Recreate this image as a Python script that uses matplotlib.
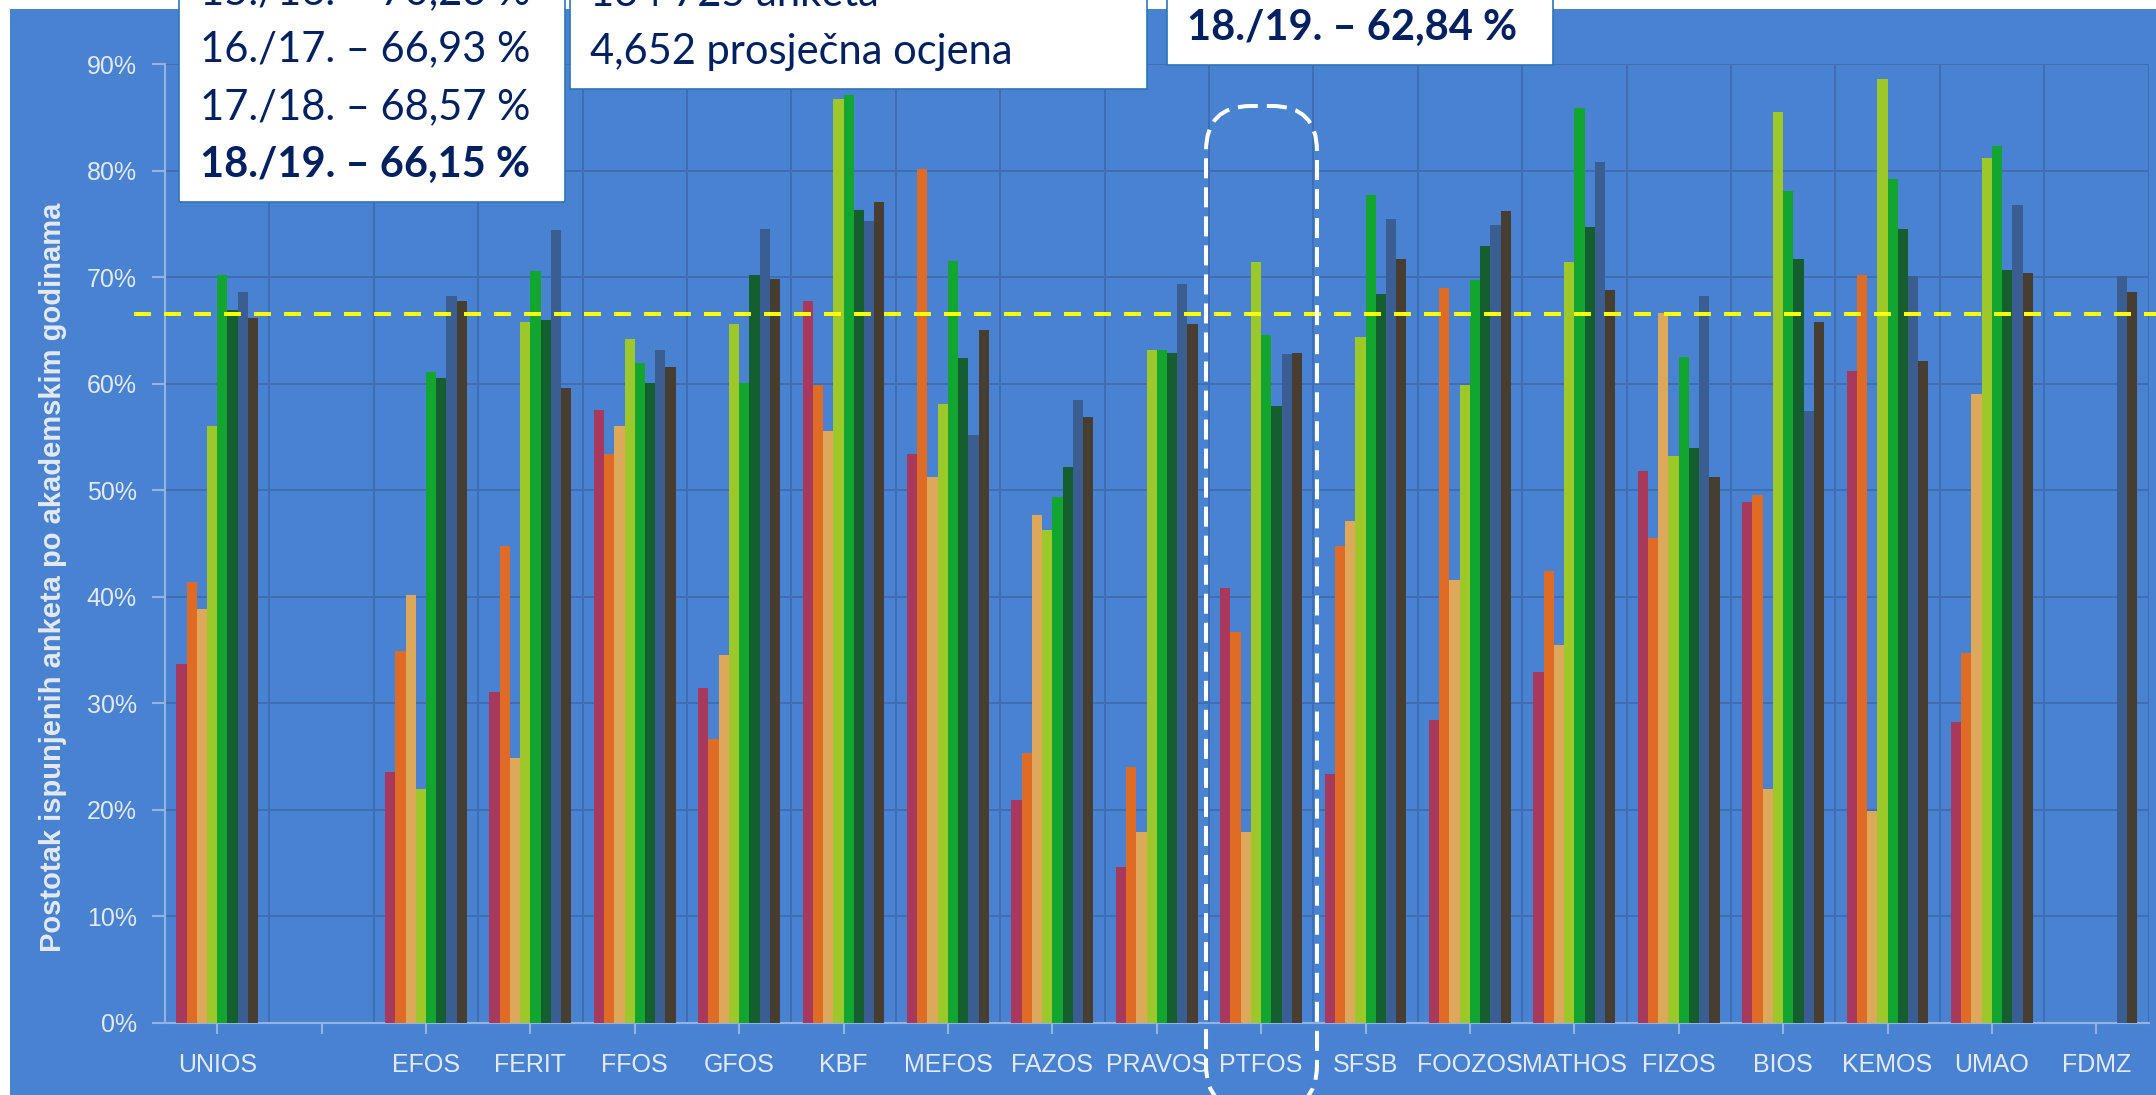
# Postotak ispunjenih anketa po sastavnicama i akademskim godinama
import numpy as np
import matplotlib
matplotlib.use('Agg')
import matplotlib.pyplot as plt
from matplotlib.patches import Rectangle, FancyBboxPatch
from matplotlib.lines import Line2D
from matplotlib.transforms import Affine2D
from matplotlib.ticker import PercentFormatter

nan = np.nan

categories = ['UNIOS', '', 'EFOS', 'FERIT', 'FFOS', 'GFOS', 'KBF', 'MEFOS', 'FAZOS',
              'PRAVOS', 'PTFOS', 'SFSB', 'FOOZOS', 'MATHOS', 'FIZOS', 'BIOS', 'KEMOS',
              'UMAO', 'FDMZ']
years = ['11./12.', '12./13.', '13./14.', '14./15.', '15./16.', '16./17.', '17./18.', '18./19.']

y1112 = [33.7, nan, 23.5, 31.0, 57.5, 31.4, 67.8, 53.4, 20.9, 14.6, 40.8, 23.3, 28.4, 32.9, 51.8, 48.9, 61.2, 28.2, nan]
y1213 = [41.4, nan, 34.9, 44.8, 53.4, 26.6, 59.9, 80.2, 25.3, 24.0, 36.7, 44.8, 69.0, 42.4, 45.5, 49.5, 70.2, 34.7, nan]
y1314 = [38.8, nan, 40.2, 24.8, 56.0, 34.5, 55.6, 51.2, 47.7, 17.9, 17.9, 47.1, 41.6, 35.5, 66.6, 21.9, 19.9, 59.0, nan]
y1415 = [56.0, nan, 21.9, 65.8, 64.2, 65.6, 86.7, 58.1, 46.3, 63.2, 71.4, 64.4, 59.9, 71.4, 53.2, 85.5, 88.6, 81.2, nan]
y1516 = [70.23, nan, 61.1, 70.6, 61.9, 60.1, 87.1, 71.5, 49.4, 63.2, 64.6, 77.7, 69.7, 85.9, 62.5, 78.1, 79.2, 82.3, nan]
y1617 = [66.93, nan, 60.5, 66.0, 60.1, 70.2, 76.3, 62.4, 52.2, 62.9, 57.9, 68.4, 72.9, 74.7, 54.0, 71.7, 74.5, 70.7, nan]
y1718 = [68.57, nan, 68.2, 74.4, 63.2, 74.5, 75.3, 55.2, 58.5, 69.4, 62.8, 75.5, 74.9, 80.8, 68.2, 57.4, 70.1, 76.8, 70.1]
y1819 = [66.15, nan, 67.8, 59.6, 61.6, 69.8, 77.1, 65.0, 56.9, 65.6, 62.84, 71.7, 76.2, 68.8, 51.2, 65.8, 62.1, 70.4, 68.6]
series = [y1112, y1213, y1314, y1415, y1516, y1617, y1718, y1819]

colors = ['#A8385C', '#E06B25', '#DDA85A', '#9DC829', '#12A530', '#155E30', '#3A5E92', '#473D31']

avg_line = 66.5
box_left = ['15./16. – 70,23 %', '16./17. – 66,93 %', '17./18. – 68,57 %', '18./19. – 66,15 %']
box_mid = ['134 725 anketa', '4,652 prosječna ocjena']
box_right = '18./19. – 62,84 %'

plt.rcParams['lines.scale_dashes'] = False
bg = '#4882D0'
grid_c = '#3E6EB6'
spine_c = '#93B3E2'
lab_c = '#E4EAF4'
navy = '#002060'

W, H = 2156, 1095
fig = plt.figure(figsize=(W / 100, H / 100), dpi=100, facecolor='white')
pix = Affine2D().scale(1 / W, 1 / H) + fig.transFigure

fig.add_artist(Rectangle((10, 0), W - 10, H - 9, transform=pix, facecolor=bg,
                         edgecolor='none', zorder=-1))

ax = fig.add_axes([165 / W, (H - 1022.5) / H, (2148.5 - 165) / W, (1022.5 - 64.3) / H])
ax.set_facecolor(bg)

x = np.arange(len(categories))
width = 0.098
for i, (vals, col) in enumerate(zip(series, colors)):
    ax.bar(x + (i - 3.5) * width, vals, width, color=col, linewidth=0, zorder=3, label=years[i])

ax.set_xlim(-0.5, 18.5)
ax.set_ylim(0, 90)
ax.set_yticks(np.arange(0, 91, 10))
ax.yaxis.set_major_formatter(PercentFormatter(decimals=0))
ax.set_xticks(x)
ax.set_xticklabels(categories)
ax.set_xticks(x + 0.5, minor=True)
ax.set_axisbelow(True)
ax.grid(axis='y', which='major', color=grid_c, lw=1.4)
ax.grid(axis='x', which='minor', color=grid_c, lw=1.4)
ax.tick_params(axis='x', which='minor', length=0)

for s in ['top', 'right']:
    ax.spines[s].set_visible(False)
for s in ['left', 'bottom']:
    ax.spines[s].set_color(spine_c)
    ax.spines[s].set_linewidth(1.5)

for lab in ax.get_xticklabels() + ax.get_yticklabels():
    lab.set_family('Liberation Sans')
ax.tick_params(axis='y', which='major', color=spine_c, width=1.5, length=9.4,
               labelsize=18, labelcolor=lab_c, pad=10.8)
ax.tick_params(axis='x', which='major', color=spine_c, width=1.5, length=7.9,
               labelsize=18, labelcolor=lab_c, pad=14)

fig.text(53 / W, (H - 577.5) / H, 'Postotak ispunjenih anketa po akademskim godinama',
         rotation=90, ha='center', va='center', fontsize=21, fontweight='bold',
         color=lab_c, family='Liberation Sans')

# average line
fig.add_artist(Line2D([134, W], [H - 314, H - 314], transform=pix, color='#FFFF00',
                      lw=2.9, dashes=(12.2, 9.4), zorder=5))

# highlight around PTFOS
fig.add_artist(FancyBboxPatch((1206, H - 1110), 111, 1004,
                              boxstyle='round,pad=0,rounding_size=45', transform=pix,
                              fill=False, edgecolor='white', lw=2.9,
                              linestyle=(0, (14.4, 6.5)), zorder=6))

# text boxes
for (x0, x1, yb) in [(179, 565, 202), (570, 1147, 89), (1167, 1553, 65)]:
    fig.add_artist(Rectangle((x0, H - yb), x1 - x0, yb + 20, transform=pix,
                             facecolor='white', edgecolor='#2E75B6', lw=1.2, zorder=8))

for k, line in enumerate(box_left):
    fig.text(200, H - (4 + 57.7 * k), line, transform=pix, fontsize=30, color=navy,
             family='Lato', fontweight='bold' if k == 3 else 'normal',
             va='baseline', ha='left', zorder=9)
for k, line in enumerate(box_mid):
    fig.text(590, H - (6 + 58 * k), line, transform=pix, fontsize=30, color=navy,
             family='Lato', va='baseline', ha='left', zorder=9)
fig.text(1187, H - 40, box_right, transform=pix, fontsize=30, color=navy,
         family='Lato', fontweight='bold', va='baseline', ha='left', zorder=9)

fig.savefig('out.png', dpi=100, facecolor='white')
